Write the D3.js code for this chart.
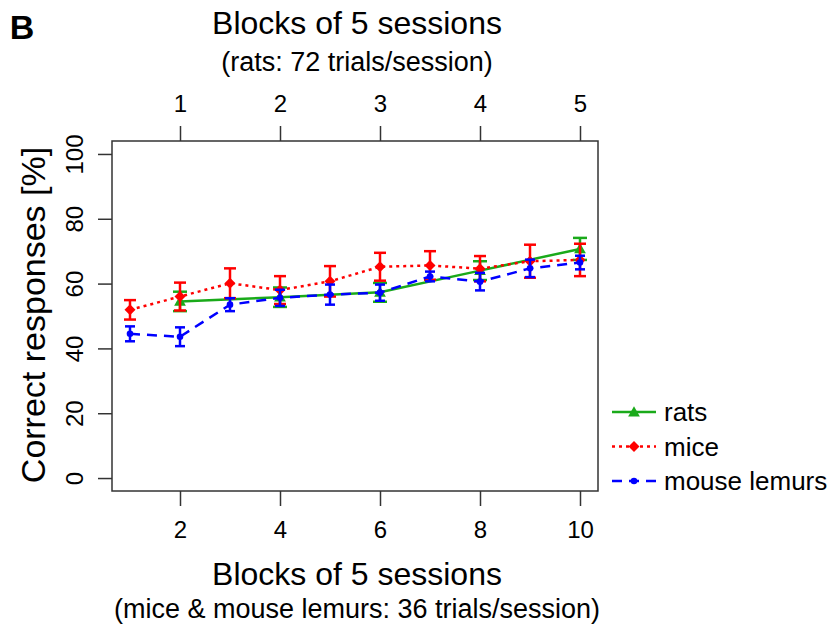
<!DOCTYPE html>
<html>
<head>
<meta charset="utf-8">
<script src="https://cdn.jsdelivr.net/npm/d3@7"></script>
<style>
  body { margin: 0; background: #fff; }
  text { font-family: "Liberation Sans", Arial, sans-serif; fill: #000; }
</style>
</head>
<body>
<div id="chart"></div>
<script>
// data
const sessionBlocks = [1, 2, 3, 4, 5, 6, 7, 8, 9, 10];
const ratBlocks = [1, 2, 3, 4, 5];
const ratMean = [54.5, 55.8, 57.3, 64.0, 70.7];
const ratErr = [3.0, 3.0, 2.9, 2.9, 3.4];
const miceMean = [51.9, 56.0, 60.1, 58.0, 60.7, 65.2, 65.6, 64.6, 66.9, 67.3];
const miceErr = [3.0, 4.3, 4.6, 4.3, 4.7, 4.3, 4.4, 3.9, 5.1, 5.0];
const lemurMean = [44.5, 43.6, 53.5, 55.6, 56.6, 57.2, 62.2, 60.6, 64.7, 66.5];
const lemurErr = [2.3, 2.9, 2.0, 2.5, 3.1, 2.5, 1.5, 2.7, 2.7, 2.1];
const yTicks = [0, 20, 40, 60, 80, 100];
const xTicks = [2, 4, 6, 8, 10];
const legendLabels = ["rats", "mice", "mouse lemurs"];

const width = 832, height = 628;

var svg = d3.select("#chart").append("svg")
  .attr("width", width)
  .attr("height", height);

svg.append("rect").attr("width", width).attr("height", height).attr("fill", "#fff");

// R-like scales with 4% padding
var x = d3.scaleLinear().domain([0.64, 10.36]).range([112, 598]);
var y = d3.scaleLinear().domain([-4, 104]).range([491, 141]);

// series: rats are plotted at every second session block
var series = [
  { name: "rats", color: "#1aaa1a", dash: null, shape: "triangle",
    pts: ratBlocks.map((b, i) => ({ x: b * 2, m: ratMean[i], e: ratErr[i] })), cap: 7 },
  { name: "mice", color: "#ff0000", dash: "3,4", shape: "diamond",
    pts: sessionBlocks.map((b, i) => ({ x: b, m: miceMean[i], e: miceErr[i] })), cap: 6 },
  { name: "lemurs", color: "#0000ff", dash: "10,7", shape: "circle",
    pts: sessionBlocks.map((b, i) => ({ x: b, m: lemurMean[i], e: lemurErr[i] })), cap: 5 }
];

function marker(g, s, cx, cy) {
  if (s.shape === "triangle") {
    g.append("path").attr("d", d3.symbol(d3.symbolTriangle, 60)())
      .attr("transform", `translate(${cx},${cy + 1})`).attr("fill", s.color);
  } else if (s.shape === "diamond") {
    g.append("path").attr("d", "M0,-5.5L5.5,0L0,5.5L-5.5,0Z")
      .attr("transform", `translate(${cx},${cy})`).attr("fill", s.color);
  } else {
    g.append("circle").attr("cx", cx).attr("cy", cy).attr("r", 3.3).attr("fill", s.color);
  }
}

var line = d3.line().x(d => x(d.x)).y(d => y(d.m));

series.forEach(function (s) {
  var g = svg.append("g");
  // error bars
  s.pts.forEach(function (d) {
    var px = x(d.x);
    g.append("line").attr("x1", px).attr("x2", px)
      .attr("y1", y(d.m - d.e)).attr("y2", y(d.m + d.e))
      .attr("stroke", s.color).attr("stroke-width", 2.5);
    [d.m - d.e, d.m + d.e].forEach(v => {
      g.append("line").attr("x1", px - s.cap).attr("x2", px + s.cap)
        .attr("y1", y(v)).attr("y2", y(v))
        .attr("stroke", s.color).attr("stroke-width", 2.5);
    });
  });
  g.append("path").datum(s.pts)
    .attr("d", line)
    .attr("fill", "none")
    .attr("stroke", s.color)
    .attr("stroke-width", 2.5)
    .attr("stroke-dasharray", s.dash);
  s.pts.forEach(d => marker(g, s, x(d.x), y(d.m)));
});

// box
svg.append("rect")
  .attr("x", 112).attr("y", 141).attr("width", 486).attr("height", 350)
  .attr("fill", "none").attr("stroke", "#333").attr("stroke-width", 1.5);

// left axis
var yAxis = svg.append("g").attr("transform", "translate(112,0)")
  .call(d3.axisLeft(y).tickValues(yTicks).tickSize(14).tickPadding(0));
yAxis.select(".domain").remove();
yAxis.selectAll(".tick line").attr("stroke", "#333").attr("stroke-width", 1.5);
yAxis.selectAll(".tick text")
  .attr("font-size", 24).attr("font-family", "Liberation Sans, Arial, sans-serif")
  .attr("text-anchor", "middle")
  .attr("transform", "translate(-37,0) rotate(-90)")
  .attr("x", 0).attr("dy", "0.35em");

// bottom axis
var xAxis = svg.append("g").attr("transform", "translate(0,491)")
  .call(d3.axisBottom(x).tickValues(xTicks).tickSize(15).tickPadding(15));
xAxis.select(".domain").remove();
xAxis.selectAll(".tick line").attr("stroke", "#333").attr("stroke-width", 1.5);
xAxis.selectAll(".tick text").attr("font-size", 24).attr("font-family", "Liberation Sans, Arial, sans-serif");

// top axis (rat blocks)
var tAxis = svg.append("g").attr("transform", "translate(0,141)")
  .call(d3.axisTop(x).tickValues(xTicks).tickFormat(d => d / 2).tickSize(15).tickPadding(14));
tAxis.select(".domain").remove();
tAxis.selectAll(".tick line").attr("stroke", "#333").attr("stroke-width", 1.5);
tAxis.selectAll(".tick text").attr("font-size", 24).attr("font-family", "Liberation Sans, Arial, sans-serif");

// titles
svg.append("text").attr("x", 22).attr("y", 39).attr("text-anchor", "middle")
  .attr("font-size", 34).attr("font-weight", "bold").text("B");
svg.append("text").attr("x", 357).attr("y", 34).attr("text-anchor", "middle")
  .attr("font-size", 32).text("Blocks of 5 sessions");
svg.append("text").attr("x", 357).attr("y", 71).attr("text-anchor", "middle")
  .attr("font-size", 27).text("(rats: 72 trials/session)");
svg.append("text").attr("x", 357).attr("y", 585).attr("text-anchor", "middle")
  .attr("font-size", 32).text("Blocks of 5 sessions");
svg.append("text").attr("x", 357).attr("y", 618).attr("text-anchor", "middle")
  .attr("font-size", 27).text("(mice & mouse lemurs: 36 trials/session)");
svg.append("text").attr("transform", "translate(45,315) rotate(-90)")
  .attr("text-anchor", "middle").attr("font-size", 34).text("Correct responses [%]");

// legend
var legend = svg.append("g");
series.forEach(function (s, i) {
  var ly = 412 + i * 34.5;
  legend.append("line").attr("x1", 612).attr("x2", 656).attr("y1", ly).attr("y2", ly)
    .attr("stroke", s.color).attr("stroke-width", 2.5).attr("stroke-dasharray", s.dash);
  marker(legend, s, 634, ly);
  legend.append("text").attr("x", 664).attr("y", ly).attr("dy", "0.35em")
    .attr("font-size", 26).text(legendLabels[i]);
});
</script>
</body>
</html>
